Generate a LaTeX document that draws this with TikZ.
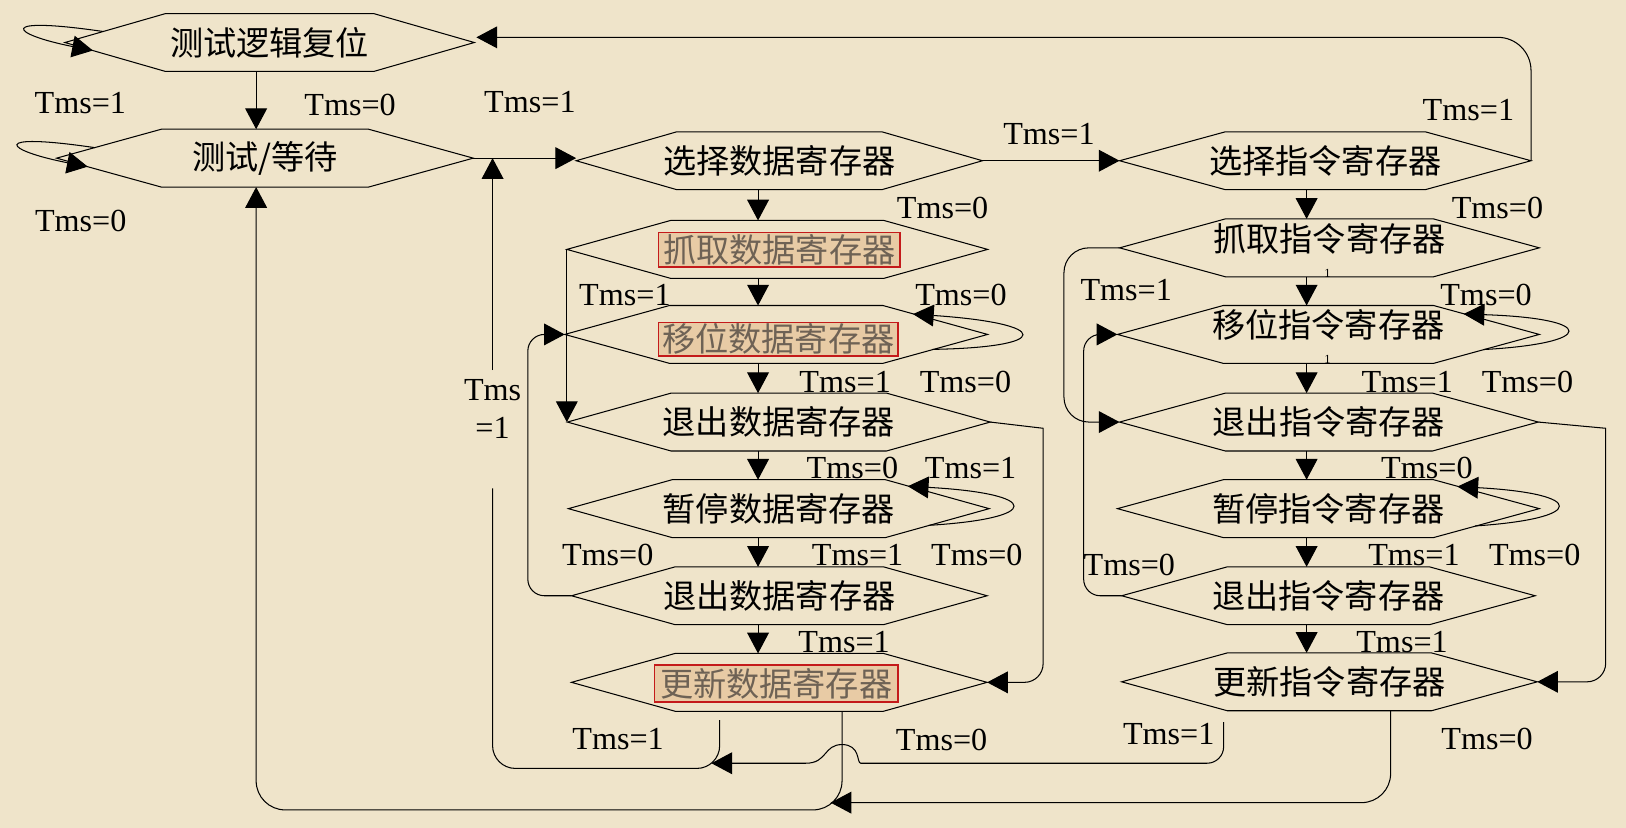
\documentclass[tikz,border=0pt]{standalone}
\usepackage{fontspec}
\setmainfont{Liberation Serif}
\newfontfamily\cjk{Noto Sans CJK SC}
\usetikzlibrary{arrows.meta}
\definecolor{bg}{HTML}{EFE4CA}
\definecolor{boxfill}{HTML}{E8CBA5}
\definecolor{boxred}{HTML}{C41A1A}
\definecolor{boxtext}{HTML}{6E6255}
\tikzset{
 conn/.style={draw=black, line width=0.5pt},
 arr/.style={conn, -{Triangle[length=10pt,width=10.5pt]}},
 hexline/.style={draw=black, line width=0.5pt},
 hexnode/.style={rectangle, inner sep=0pt, minimum height=27.5pt, font=\cjk\fontsize{16}{16}\selectfont},
 rbox/.style={rectangle, draw=boxred, line width=0.8pt, fill=boxfill, text=boxtext, inner sep=0pt, font=\cjk\fontsize{16}{16}\selectfont},
 lab/.style={inner sep=0pt, font=\fontsize{15.5}{18.5}\selectfont},
 tinyone/.style={inner sep=0pt, font=\fontsize{6}{6}\selectfont},
}
\newcommand\hexn[6]{%
 \node[hexnode, minimum width=#4*0.5pt] (#1) at (#2,#3) {#6};
 \draw[hexline] (#1.west) -- ([shift={(#5,0)}]#1.north west) -- ([shift={(-#5,0)}]#1.north east) -- (#1.east) -- ([shift={(-#5,0)}]#1.south east) -- ([shift={(#5,0)}]#1.south west) -- cycle;}
\begin{document}
\begin{tikzpicture}[x=0.5pt,y=-0.5pt]
\fill[bg] (0,0) rectangle (1568,798);
\useasboundingbox (0,0) rectangle (1568,798);

% ---------- states ----------
\hexn{reset}{260}{41}{394}{97}{测试逻辑复位}
\hexn{idle}{255.5}{152.5}{401}{101}{测试/等待}
\hexn{seldr}{751.5}{155}{391}{97}{选择数据寄存器}
\hexn{capdr}{749.5}{240.5}{405}{100}{}
\hexn{shdr}{748.5}{322.5}{407}{101}{}
\hexn{ex1dr}{751}{407}{407}{100}{退出数据寄存器}
\hexn{pausedr}{751}{490.5}{405}{100}{暂停数据寄存器}
\hexn{ex2dr}{751.5}{574.5}{400}{100}{退出数据寄存器}
\hexn{upddr}{751.5}{658}{400}{100}{}
\hexn{selir}{1278}{155}{396}{102}{选择指令寄存器}
\hexn{capir}{1282}{239}{404}{102}{\raisebox{4.5pt}[\height][\depth]{抓取指令寄存器}}
\hexn{shir}{1281}{322.5}{406}{102}{\raisebox{4.5pt}[\height][\depth]{移位指令寄存器}}
\hexn{ex1ir}{1281.5}{407}{403}{102}{退出指令寄存器}
\hexn{pauseir}{1281}{490.5}{406}{102}{暂停指令寄存器}
\hexn{ex2ir}{1281}{574.5}{398}{102}{退出指令寄存器}
\hexn{updir}{1282}{657.5}{400}{102}{更新指令寄存器}

\node[rbox, minimum width=116.5pt, minimum height=16.75pt] (capdrt) at (751.5,241) {抓取数据寄存器};
\node[rbox, minimum width=115.5pt, minimum height=16pt] (shdrt) at (750.5,327) {移位数据寄存器};
\node[rbox, minimum width=117.5pt, minimum height=18pt] (upddrt) at (748.5,659) {更新数据寄存器};

% ---------- helper coordinates ----------
\coordinate (xd) at (731,0);
\coordinate (xi) at (1260,0);
\coordinate (xl) at (509,0);
\coordinate (xil) at (1026,0);
\coordinate (xir) at (1045,0);
\coordinate (xv) at (475,0);
\coordinate (mergeA) at (686,736);
\coordinate (mergeB) at (801,774);

% ---------- self loops ----------
\draw[arr] ([shift={(37,-10.6)}]reset.west) .. controls +(-105,-15.4) and +(-80,-15.7) .. ([shift={(27,7.7)}]reset.west);
\draw[arr] ([shift={(37,-10.1)}]idle.west) .. controls +(-104,-15.4) and +(-81,-15.7) .. ([shift={(30,8.2)}]idle.west);
\draw[arr] ([shift={(-53,14.4)}]shdr.east) .. controls +(116,-1.9) and +(135,9.1) .. ([shift={(-72,-19.6)}]shdr.east);
\draw[arr] ([shift={(-58.5,16.1)}]pausedr.east) .. controls +(110,-6.6) and +(130,7.1) .. ([shift={(-78.5,-21.6)}]pausedr.east);
\draw[arr] ([shift={(-54,14.6)}]shir.east) .. controls +(110,-6.1) and +(129,4.2) .. ([shift={(-73,-19.7)}]shir.east);
\draw[arr] ([shift={(-62,16.7)}]pauseir.east) .. controls +(108,-7.2) and +(125,6.8) .. ([shift={(-79,-21.3)}]pauseir.east);

% ---------- main transitions ----------
\draw[arr] ([shift={(-13,0)}]reset.south) -- ([shift={(-8.5,0)}]idle.north);
\draw[arr] (idle.east) -- (idle.east -| seldr.west);
\draw[arr] (seldr.east) -- (selir.west);
\draw[arr, rounded corners=16pt] (selir.east) |- ([shift={(2,-5)}]reset.east);

\foreach \a/\b in {seldr/capdr, capdr/shdr, shdr/ex1dr, ex1dr/pausedr, pausedr/ex2dr, ex2dr/upddr}
  \draw[arr] (\a.south -| xd) -- (\b.north -| xd);
\foreach \a/\b in {selir/capir, capir/shir, shir/ex1ir, ex1ir/pauseir, pauseir/ex2ir, ex2ir/updir}
  \draw[arr] (\a.south -| xi) -- (\b.north -| xi);

\draw[arr] (capdr.west) -- (capdr.west |- ex1dr.west);
\draw[arr, rounded corners=12pt] (capir.west) -- (capir.west -| xil) -- (ex1ir.west -| xil) -- (ex1ir.west);

\draw[arr, rounded corners=8pt] (ex2dr.west) -- (ex2dr.west -| xl) -- (shdr.west -| xl) -- (shdr.west);
\draw[arr, rounded corners=8pt] (ex2ir.west) -- (ex2ir.west -| xir) -- (shir.west -| xir) -- (shir.west);

\draw[arr] (ex1dr.east) -- ++(51,6) [rounded corners=9pt] |- (upddr.east);
\draw[arr] (ex1ir.east) -- ++(65,6) [rounded corners=9pt] |- (updir.east);

% update DR, Tms=1 -> run-test/idle
\draw[conn, rounded corners=11pt] ([shift={(-57.5,8.5)}]upddr.south) -- (694,741) -- (475,741) -- (475,471);
\draw[arr] (475,357) -- (idle.east -| xv);
% update IR, Tms=1
\draw[arr, rounded corners=8pt] ([shift={(-102,11)}]updir.south) -- (1180,736) -- (846,736) [sharp corners] .. controls (826,736) and (830,718) .. (812,718) .. controls (794,718) and (798,736) .. (777,736) -- (mergeA);
% update DR, Tms=0 -> run-test/idle
\draw[arr, rounded corners=14pt] ([shift={(60.5,0)}]upddr.south) -- (812,781) -- (247,781) -- ([shift={(-8.5,0)}]idle.south);
% update IR, Tms=0
\draw[arr, rounded corners=14pt] ([shift={(59,0)}]updir.south) -- (1341,774) -- (mergeB);

% ---------- labels ----------
\node[lab] (l1) at (77.5,99.5) {Tms=1};
\node[lab] (l2) at (337.6,101) {Tms=0};
\node[lab] (l3) at (511,98.8) {Tms=1};
\node[lab] (l4) at (77.8,213) {Tms=0};
\node[lab] (l5) at (1011.5,129) {Tms=1};
\node[lab] (l6) at (1416,106) {Tms=1};
\node[lab, align=center] (l7) at (475,394.5) {Tms\\=1};

\node[lab] (d1) at (909,200.8) {Tms=0};
\node[lab] (d2) at (602.6,284.5) {Tms=1};
\node[lab] (d3) at (926.7,284.5) {Tms=0};
\node[lab] (d4) at (815,368) {Tms=1};
\node[lab] (d5) at (931,368) {Tms=0};
\node[lab] (d6) at (822,451.6) {Tms=0};
\node[lab] (d7) at (936,451.6) {Tms=1};
\node[lab] (d8) at (586,535) {Tms=0};
\node[lab] (d9) at (827,535) {Tms=1};
\node[lab] (d10) at (942,535) {Tms=0};
\node[lab] (d11) at (814,618.8) {Tms=1};
\node[lab] (d12) at (596,712.6) {Tms=1};
\node[lab] (d13) at (908,714) {Tms=0};

\node[lab] (i1) at (1444,200.8) {Tms=0};
\node[lab] (i2) at (1086,279.7) {Tms=1};
\node[lab] (i3) at (1433,284.5) {Tms=0};
\node[lab] (i4) at (1357,368) {Tms=1};
\node[lab] (i5) at (1473,368) {Tms=0};
\node[lab] (i6) at (1376,451.6) {Tms=0};
\node[lab] (i7) at (1089,545) {Tms=0};
\node[lab] (i8) at (1363.5,535) {Tms=1};
\node[lab] (i9) at (1480,535) {Tms=0};
\node[lab] (i10) at (1352,618.8) {Tms=1};
\node[lab] (i11) at (1127,708) {Tms=1};
\node[lab] (i12) at (1434,712.6) {Tms=0};

\node[tinyone] (t1) at (1280,263.5) {1};
\node[tinyone] (t2) at (1280,346.5) {1};
\end{tikzpicture}
\end{document}
